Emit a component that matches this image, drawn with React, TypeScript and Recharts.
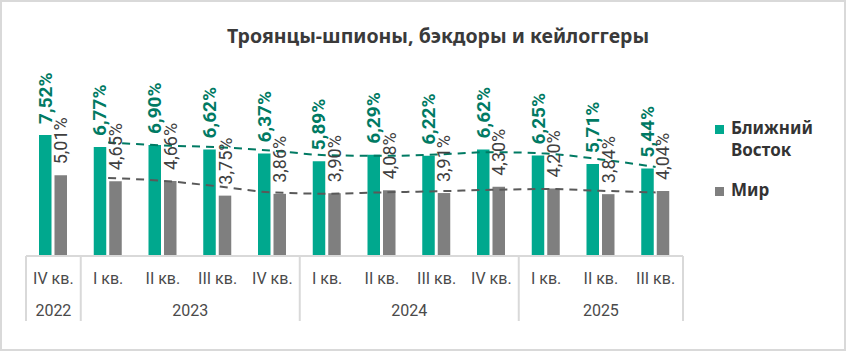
import React from 'react';
import { ComposedChart, Bar, Line, XAxis, YAxis, LabelList } from 'recharts';

const quarters = ['IV кв.', 'I кв.', 'II кв.', 'III кв.', 'IV кв.', 'I кв.', 'II кв.', 'III кв.', 'IV кв.', 'I кв.', 'II кв.', 'III кв.'];
const years = ['2022', '2023', '2024', '2025'];
const yearSpans = [1, 4, 4, 3];

const middleEast = [7.52, 6.77, 6.9, 6.62, 6.37, 5.89, 6.29, 6.22, 6.62, 6.25, 5.71, 5.44];
const world = [5.01, 4.65, 4.66, 3.75, 3.86, 3.9, 4.08, 3.91, 4.3, 4.2, 3.84, 4.04];

// dashed trend lines
const middleEastTrend = [null, 7.05, 6.87, 6.76, 6.54, 6.26, 6.22, 6.3, 6.45, 6.36, 6.0, 5.53];
const worldTrend = [null, 4.85, 4.67, 4.33, 3.95, 3.87, 3.95, 4.02, 4.11, 4.16, 4.05, 3.95];

const GREEN = '#00a88e';
const GREEN_TEXT = '#007a63';
const GRAY = '#7f7f7f';
const GRAY_TEXT = '#404040';
const LINE_COLOR = '#d9d9d9';
const FONT = 'Roboto, "Noto Sans", sans-serif';

const W = 846;
const H = 351;
const LEFT = 26;
const RIGHT = 163;
const BW = (W - LEFT - RIGHT) / quarters.length;

const data = quarters.map((q, i) => ({
  quarter: q,
  me: middleEast[i],
  world: world[i],
  meTrend: middleEastTrend[i],
  worldTrend: worldTrend[i],
}));

const fmt = (v: number) => v.toFixed(2).replace('.', ',') + '%';

const groupStarts: number[] = [];
yearSpans.reduce((acc, n) => {
  groupStarts.push(acc);
  return acc + n;
}, 0);

const axisText = { fontFamily: FONT, fontSize: 16, fill: '#4a4a4a' };

const QuarterTick = (props: any) => {
  const { x, payload } = props;
  const i = payload.index;
  const g = groupStarts.indexOf(i);
  return (
    <g>
      <text x={x} y={278} textAnchor="middle" dominantBaseline="central" style={axisText}>
        {payload.value}
      </text>
      {g >= 0 && (
        <>
          <line x1={x - BW / 2} x2={x - BW / 2} y1={256} y2={321} stroke={LINE_COLOR} strokeWidth={2} />
          <text x={x + ((yearSpans[g] - 1) / 2) * BW} y={310} textAnchor="middle" dominantBaseline="central" style={axisText}>
            {years[g]}
          </text>
        </>
      )}
      {i === quarters.length - 1 && (
        <line x1={x + BW / 2} x2={x + BW / 2} y1={256} y2={321} stroke={LINE_COLOR} strokeWidth={2} />
      )}
    </g>
  );
};

const makeLabel = (color: string, weight: number, size: number) => (props: any) => {
  const { x, y, width, value } = props;
  const cx = x + width / 2;
  const cy = y - 11;
  return (
    <text
      x={cx}
      y={cy}
      transform={`rotate(-90 ${cx} ${cy})`}
      textAnchor="start"
      dominantBaseline="central"
      style={{ fontFamily: FONT, fontSize: size, fontWeight: weight, fill: color }}
    >
      {fmt(value)}
    </text>
  );
};

const legendItems = [
  { lines: ['Ближний', 'Восток'], color: GREEN, top: 117 },
  { lines: ['Мир'], color: GRAY, top: 179 },
];

const App: React.FC = () => {
  return (
    <div style={{ position: 'absolute', left: 0, top: 0, width: W, height: H, background: '#fff', fontFamily: FONT }}>
      <div
        style={{
          position: 'absolute',
          left: 438,
          top: 35,
          transform: 'translate(-50%, -50%)',
          whiteSpace: 'nowrap',
          fontSize: 19.5,
          fontWeight: 700,
          color: '#3a3a3a',
          fontFamily: '"Noto Sans", sans-serif',
        }}
      >
        Троянцы-шпионы, бэкдоры и кейлоггеры
      </div>
      <ComposedChart
        width={W}
        height={H}
        data={data}
        margin={{ top: 95, right: RIGHT, bottom: 30, left: LEFT }}
        barSize={12.5}
        barGap={3}
      >
        <XAxis
          dataKey="quarter"
          interval={0}
          tickLine={false}
          axisLine={{ stroke: LINE_COLOR, strokeWidth: 2 }}
          height={65}
          tick={<QuarterTick />}
        />
        <YAxis hide domain={[0, 10]} />
        <Bar dataKey="me" fill={GREEN} isAnimationActive={false}>
          <LabelList dataKey="me" content={makeLabel(GREEN_TEXT, 700, 19)} />
        </Bar>
        <Bar dataKey="world" fill={GRAY} isAnimationActive={false}>
          <LabelList dataKey="world" content={makeLabel(GRAY_TEXT, 400, 18)} />
        </Bar>
        <Line
          dataKey="meTrend"
          type="monotone"
          stroke={GREEN_TEXT}
          strokeWidth={2}
          strokeDasharray="8 6"
          dot={false}
          activeDot={false}
          isAnimationActive={false}
        />
        <Line
          dataKey="worldTrend"
          type="monotone"
          stroke="#595959"
          strokeWidth={2}
          strokeDasharray="8 6"
          dot={false}
          activeDot={false}
          isAnimationActive={false}
        />
      </ComposedChart>
      {legendItems.map((item) => (
        <div key={item.lines[0]} style={{ position: 'absolute', left: 715, top: item.top, display: 'flex', alignItems: 'flex-start' }}>
          <div style={{ width: 9, height: 9, background: item.color, marginTop: 8, marginRight: 7 }} />
          <div style={{ fontSize: 17, fontWeight: 700, color: '#333', lineHeight: '22px', fontFamily: '"Noto Sans", sans-serif' }}>
            {item.lines.map((l) => (
              <div key={l}>{l}</div>
            ))}
          </div>
        </div>
      ))}
      <div
        style={{
          position: 'absolute',
          left: 0,
          top: 0,
          width: W,
          height: H,
          boxSizing: 'border-box',
          border: `2px solid ${LINE_COLOR}`,
          pointerEvents: 'none',
        }}
      />
    </div>
  );
};

export default App;
